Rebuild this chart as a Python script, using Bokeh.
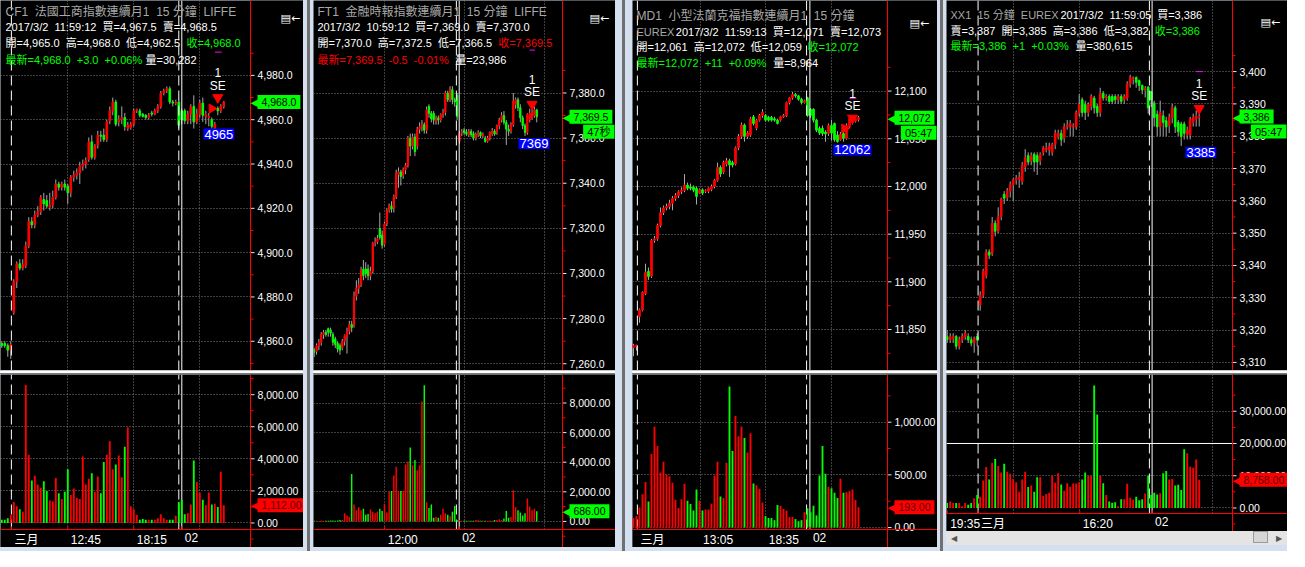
from bokeh.plotting import figure
from bokeh.models import Range1d, FixedTicker, Span, Label, Spacer, Div, BoxAnnotation
from bokeh.layouts import row, column
from bokeh.embed import file_html
from bokeh.resources import INLINE
from bokeh.core.properties import value

# ======================= DATA =======================
# --- CF1 法國工商指數 (15 min bars) ---
cf1_open = [4859, 4859, 4858, 4856, 4873, 4887, 4895, 4893, 4894, 4903,
            4914, 4912.5, 4917, 4918.5, 4924, 4923.5, 4920.5, 4921.5, 4925, 4931,
            4929.5, 4931, 4930, 4927, 4934, 4935, 4936, 4939, 4940, 4942,
            4950, 4943, 4948.5, 4953, 4953, 4951, 4959.5, 4964, 4968, 4959,
            4960, 4961, 4956, 4956.5, 4958, 4964, 4964, 4962.5, 4962, 4961,
            4963, 4962.5, 4964, 4966, 4972, 4973, 4974, 4968, 4967.5, 4968,
            4964, 4964, 4959.5, 4962.5, 4966, 4959, 4962.5, 4967.5, 4961.5, 4961,
            4960, 4956, 4965, 4964, 4966]
cf1_close = [4858, 4858, 4856, 4858.5, 4887, 4895, 4893, 4894.5, 4903, 4914,
             4912.5, 4917, 4918.5, 4925, 4922, 4921, 4921.5, 4925, 4931, 4929.5,
             4931, 4929.5, 4927, 4934, 4935, 4936, 4939, 4940, 4941.5, 4950,
             4943, 4948.5, 4953, 4952.5, 4951, 4959, 4964, 4968, 4958, 4960,
             4961, 4957, 4957.5, 4958, 4964, 4964.5, 4962, 4961.5, 4961, 4962,
             4962.5, 4964, 4966, 4972, 4973, 4974, 4968, 4967.5, 4968, 4957.5,
             4960, 4959.5, 4962.5, 4966, 4959, 4962.5, 4967.5, 4962, 4962.5, 4961.5,
             4957, 4958, 4964, 4966, 4968]
cf1_high = [4860, 4860, 4859, 4860, 4888, 4896, 4897, 4897, 4905, 4916,
            4916, 4919, 4921, 4926, 4927, 4926, 4927, 4928, 4933, 4932,
            4932, 4933, 4931, 4935, 4937, 4938, 4941, 4942, 4943, 4952,
            4953, 4949, 4955, 4955, 4956, 4960, 4966, 4970, 4969, 4962,
            4966, 4963, 4959, 4959, 4965, 4965, 4965, 4963, 4962.5, 4963,
            4964, 4965, 4967, 4973, 4974, 4975, 4975, 4969, 4969, 4969,
            4965, 4965, 4964, 4967, 4971, 4965, 4969, 4970, 4964, 4963,
            4961, 4959, 4966, 4967, 4968.5]
cf1_low = [4857, 4857, 4853, 4852, 4872, 4884, 4892, 4892, 4893, 4902,
           4911, 4911, 4916, 4917, 4919, 4920, 4919, 4920, 4924, 4928,
           4928, 4928, 4922, 4925, 4932, 4933, 4931, 4937, 4938, 4941,
           4942, 4942, 4947, 4950, 4950, 4950, 4958, 4962, 4957, 4957,
           4958, 4955, 4955, 4955.5, 4957, 4963, 4961, 4961, 4960, 4960,
           4961.5, 4962, 4963, 4965, 4971, 4972, 4967, 4966, 4966.5, 4956,
           4958, 4958, 4958, 4958, 4956, 4958, 4961, 4959, 4958, 4957,
           4956, 4955, 4962, 4963, 4965]
cf1_volume = [200, 200, 300, 500, 1300, 1050, 850, 700, 8600, 4250,
              2650, 2950, 2400, 2200, 2600, 2000, 1400, 1350, 2800, 1850,
              1500, 1950, 3350, 1750, 2150, 1550, 1500, 4150, 2400, 2750,
              3100, 1950, 2900, 1850, 3800, 4250, 5100, 3350, 3650, 4200,
              2850, 4750, 5950, 1050, 850, 500, 200, 250, 200, 200,
              200, 200, 300, 550, 300, 200, 200, 200, 450, 1300,
              1450, 550, 600, 1150, 3900, 2550, 1900, 1450, 1100, 1900,
              1150, 1200, 1000, 3200, 1112]
cf1_header = ["CF1  法國工商指數連續月1  15 分鐘  LIFFE",
              "2017/3/2  11:59:12  買=4,967.5  賣=4,968.5",
              "開=4,965.0  高=4,968.0  低=4,962.5", "收=4,968.0",
              "最新=4,968.0  +3.0  +0.06%", "量=30,282"]
cf1_xlabels = ["三月", "12:45", "18:15", "02"]
cf1_price_ticks = [4860, 4880, 4900, 4920, 4940, 4960, 4980]
cf1_volume_ticks = [0, 2000, 4000, 6000, 8000]
cf1_signal = (72, 4970, "1", "SE")
cf1_entry = (70, 4965)
cf1_box = (67.2, 4956, "4965")
cf1_stop = 4990.5

# --- FT1 金融時報指數 ---
ft1_open = [7266, 7265.5, 7268, 7269.5, 7273, 7274, 7275.5, 7275, 7273, 7271,
            7269, 7268, 7267, 7270, 7272, 7274.5, 7277.5, 7277, 7290, 7293.5,
            7295, 7302, 7302, 7302, 7299, 7301, 7313.5, 7314, 7320, 7317,
            7313, 7322, 7328, 7330, 7329, 7334, 7344, 7345, 7343.5, 7346,
            7348, 7360, 7356.5, 7360.5, 7356.5, 7364, 7365, 7366, 7363.5, 7374,
            7371, 7371, 7367.5, 7369, 7368, 7370.5, 7371.5, 7380, 7377, 7381.5,
            7377, 7379, 7358.5, 7362, 7363.5, 7362.8, 7361.5, 7363, 7362, 7360,
            7361.5, 7362.5, 7361, 7360, 7358.6, 7360, 7361.8, 7363.2, 7362.5, 7365.5,
            7368, 7370, 7367, 7364, 7363, 7366, 7375, 7377, 7373.5, 7369,
            7365.5, 7362.5, 7368, 7369, 7370, 7372.5]
ft1_close = [7265, 7268, 7269.5, 7273, 7273.8, 7273, 7274, 7273.5, 7269.5, 7268.5,
             7266.5, 7266, 7270, 7272.5, 7274.5, 7277.5, 7276, 7290, 7293.5, 7295,
             7301.5, 7299, 7300, 7299, 7301, 7313.5, 7314, 7315.5, 7316, 7312.5,
             7322, 7328, 7330, 7328.5, 7334, 7344.5, 7345, 7343, 7346, 7348,
             7360, 7356.5, 7360.5, 7354, 7364, 7365, 7366, 7363.5, 7372.5, 7371,
             7368.5, 7368, 7368.5, 7368, 7370.5, 7371.5, 7380, 7377, 7381.5, 7377,
             7376, 7369.5, 7362, 7362.8, 7362.5, 7361.7, 7363, 7361.5, 7360, 7361.5,
             7362.5, 7361, 7361.8, 7358.5, 7360, 7362.6, 7363.2, 7361.8, 7365.5, 7368,
             7370, 7367, 7364, 7363, 7366, 7376.5, 7377, 7373.5, 7369, 7365.5,
             7362.5, 7370.5, 7371, 7371.5, 7372.5, 7369.5]
ft1_high = [7267, 7269, 7271, 7274, 7275, 7275, 7276, 7276, 7274, 7272,
            7270, 7269, 7271, 7273, 7276, 7279, 7279, 7292, 7297, 7298,
            7303, 7306, 7305, 7304, 7303, 7314, 7316, 7317, 7327, 7319,
            7323, 7329, 7331, 7332, 7335, 7346, 7347, 7346, 7347, 7349,
            7361, 7362, 7362, 7362, 7365, 7367, 7368, 7367, 7374, 7375,
            7372, 7372, 7370, 7370, 7371, 7373, 7381, 7381, 7383, 7383,
            7378, 7380, 7363, 7364, 7364.5, 7364, 7364, 7364, 7363, 7362.5,
            7363.5, 7363, 7362.5, 7361, 7361, 7363, 7364.5, 7364, 7366, 7369,
            7371.5, 7372, 7368, 7366, 7367, 7380, 7378, 7378, 7375, 7370,
            7366.5, 7371, 7373, 7373, 7374, 7373]
ft1_low = [7263, 7264, 7266, 7268, 7271, 7272, 7272, 7272, 7268, 7267,
           7265, 7264, 7266, 7268, 7264.5, 7273, 7274, 7276, 7288, 7291,
           7294, 7297, 7298, 7297, 7297, 7300, 7312, 7313, 7315, 7311,
           7312, 7321, 7327, 7327, 7327, 7333, 7338, 7339, 7342, 7344,
           7347, 7352, 7355, 7352, 7355, 7362, 7363, 7362, 7362, 7369,
           7367, 7366, 7366, 7366, 7367, 7369, 7370, 7376, 7376, 7375,
           7374, 7368, 7357.5, 7361, 7361.5, 7361, 7360.5, 7360.5, 7359, 7359,
           7360.5, 7360, 7360, 7358, 7358, 7359, 7361, 7361, 7361.5, 7364,
           7367, 7366, 7357, 7361, 7362, 7365, 7373, 7372, 7367, 7364,
           7361, 7361.5, 7367, 7368, 7369, 7367]
ft1_volume = [40, 50, 30, 60, 50, 40, 50, 60, 70, 50,
              60, 100, 100, 550, 400, 300, 3200, 1150, 750, 950,
              750, 850, 450, 500, 800, 650, 550, 650, 850, 700,
              1200, 600, 2000, 2050, 3100, 3700, 2050, 2050, 2050, 3850,
              4050, 5000, 3800, 4150, 3450, 3800, 8100, 9200, 1300, 900,
              1150, 250, 300, 250, 450, 850, 550, 450, 350, 650,
              1050, 100, 100, 50, 40, 50, 60, 50, 40, 100,
              120, 50, 60, 50, 40, 60, 50, 100, 100, 150,
              100, 200, 700, 250, 300, 2100, 950, 750, 600, 400,
              550, 1550, 1000, 750, 850, 686]
ft1_header = ["FT1  金融時報指數連續月1  15 分鐘  LIFFE",
              "2017/3/2  10:59:12  買=7,369.0  賣=7,370.0",
              "開=7,370.0  高=7,372.5  低=7,366.5", "收=7,369.5",
              "最新=7,369.5  -0.5  -0.01%", "量=23,986"]
ft1_xlabels = ["12:00", "02"]
ft1_price_ticks = [7260, 7280, 7300, 7320, 7340, 7360, 7380]
ft1_volume_ticks = [0, 2000, 4000, 6000, 8000]
ft1_signal = (93, 7375, "1", "SE")
ft1_box = (87.2, 7360, "7369")
ft1_stop = 7399
ft1_timer = "47秒"

# --- MD1 小型法蘭克福指數 ---
md1_open = [11831, 11832, 11863.5, 11870.5, 11887.5, 11911, 11906, 11943.5, 11945, 11959,
            11972.5, 11977.5, 11979, 11982.5, 11987.5, 11990.5, 11994.5, 11996, 12001.5, 11999.5,
            11999.5, 11998, 11993, 11996.5, 11995, 11995, 11997, 12000, 12006.5, 12020,
            12015, 12023.5, 12027, 12025, 12023.5, 12040.5, 12052.5, 12064.5, 12052.5, 12054,
            12073, 12061, 12069.5, 12074.5, 12074.5, 12072.5, 12072.5, 12071, 12069.5, 12069.5,
            12073, 12074.5, 12088, 12093, 12096.5, 12095, 12091.5, 12088, 12093, 12081,
            12081, 12069.5, 12061, 12061, 12057, 12055.5, 12064, 12066, 12054, 12049,
            12055.5, 12050.5, 12062.5, 12067, 12068.5, 12070]
md1_close = [11833, 11833.5, 11870.5, 11889, 11910, 11905.5, 11943.5, 11945, 11959, 11972.5,
             11977.5, 11979, 11982.5, 11987.5, 11990.5, 11994.5, 11996, 12001.5, 11998, 11998,
             11996, 11989.5, 11996.5, 11993, 11995.7, 11998, 12000, 12006.5, 12020, 12013,
             12025, 12027, 12022.5, 12022.5, 12040.5, 12052.5, 12064.5, 12052.5, 12056, 12071,
             12066, 12069.5, 12074.5, 12078, 12069.5, 12069.5, 12069.5, 12069.5, 12066, 12073,
             12074.5, 12088, 12093, 12096.5, 12095, 12091.5, 12088, 12090, 12074.5, 12074.5,
             12069.5, 12059, 12056, 12055.5, 12055, 12064, 12056, 12049, 12047, 12055,
             12050.5, 12064, 12071, 12070, 12071, 12072]
md1_high = [11835, 11834, 11872, 11890, 11919, 11915, 11945, 11948, 11961, 11978,
            11980, 11982, 11986, 11990, 11993, 11996, 11999, 12013, 12004, 12003,
            12001, 12000, 11998, 11998, 11997, 11999, 12002, 12008, 12025, 12022,
            12027, 12030, 12029, 12027, 12042, 12055, 12067, 12066, 12058, 12073,
            12075, 12071, 12076, 12081, 12076, 12074, 12074, 12073, 12071, 12074,
            12076, 12089, 12094, 12099, 12098, 12096, 12093, 12091, 12094, 12082,
            12082, 12071, 12063, 12064, 12059, 12066, 12070, 12067, 12058, 12057,
            12058, 12066, 12072, 12071, 12073, 12074]
md1_low = [11822, 11828, 11857, 11869, 11886, 11902, 11904, 11941, 11943, 11957,
           11970, 11975, 11976, 11975, 11985, 11988, 11992, 11994, 11996, 11996,
           11994, 11981, 11992, 11991, 11993, 11993, 11995, 11998, 12005, 12010,
           12013, 12021, 12010, 12020, 12022, 12038, 12050, 12047, 12050, 12052,
           12064, 12059, 12068, 12072, 12068, 12068, 12068, 12068, 12065, 12068,
           12072, 12073, 12086, 12091, 12093, 12090, 12086, 12087, 12073, 12072,
           12067, 12057, 12054, 12053, 12047, 12053, 12048, 12047, 12046, 12048,
           12047, 12049, 12061, 12065, 12067, 12068]
md1_volume = [90, 110, 190, 315, 433, 248, 697, 957, 774, 523,
              625, 501, 486, 424, 263, 186, 269, 415, 254, 223,
              161, 362, 254, 161, 170, 170, 226, 495, 625, 294,
              279, 616, 1340, 727, 1059, 867, 960, 851, 712, 895,
              418, 402, 368, 238, 108, 90, 90, 70, 214, 207,
              176, 161, 99, 100, 80, 60, 70, 145, 183, 145,
              207, 115, 495, 774, 511, 387, 372, 331, 279, 464,
              331, 337, 347, 360, 260, 193]
md1_header = ["MD1  小型法蘭克福指數連續月1  15 分鐘", "EUREX",
              "2017/3/2  11:59:13  買=12,071  賣=12,073",
              "開=12,061  高=12,072  低=12,059", "收=12,072",
              "最新=12,072  +11  +0.09%", "量=8,964"]
md1_xlabels = ["三月", "13:05", "18:35", "02"]
md1_price_ticks = [11850, 11900, 11950, 12000, 12050, 12100]
md1_volume_ticks = [0, 500, 1000]
md1_signal = (73, 12071.7, "1", "SE")
md1_entry = (70.3, 12060.8)
md1_box = (66.6, 12044, "12062")
md1_stop = 12092.5
md1_timer = "05:47"

# --- XX1 ---
xx1_open = [3318, 3317, 3317.4, 3318, 3315, 3317, 3318, 3318, 3317, 3316,
            3318, 3327.8, 3330.8, 3336.8, 3344.2, 3343.7, 3353.1, 3350.6, 3355.1, 3362,
            3361, 3363, 3365, 3366.5, 3366.7, 3366, 3370.5, 3374, 3372.4, 3374.4,
            3374, 3372.4, 3375, 3375.8, 3375.8, 3375, 3377.4, 3379.9, 3380.9, 3379.4,
            3382.9, 3382.9, 3382.9, 3382.9, 3387.3, 3391.3, 3389.8, 3387.3, 3389.3, 3391.8,
            3389.3, 3387.3, 3393.3, 3391.8, 3392.3, 3392.3, 3392.3, 3391.3, 3392.3, 3391.3,
            3391.8, 3396.2, 3397.7, 3398.2, 3397.2, 3395.7, 3394.3, 3395.2, 3393.8, 3390.3,
            3386.8, 3382.9, 3386.3, 3384.8, 3383.4, 3385.8, 3388.8, 3384.3, 3383.8, 3383.8,
            3380.4, 3380.4, 3384.3, 3385.3, 3385.9]
xx1_close = [3317, 3318, 3318.1, 3315, 3317, 3318, 3319, 3317, 3316, 3317.5,
             3317, 3330.8, 3338.3, 3344.2, 3343.2, 3353.1, 3350.6, 3355.1, 3360.6, 3360.8,
             3363, 3365, 3366.5, 3367, 3367.3, 3371, 3373.4, 3372, 3374, 3372,
             3372, 3374.4, 3376.4, 3376.4, 3376.8, 3377.4, 3380.9, 3380.9, 3378.9, 3382.9,
             3383.4, 3383.9, 3383.2, 3387.3, 3389.8, 3387.3, 3387.3, 3389.8, 3392.3, 3388.8,
             3387.3, 3393.3, 3391.8, 3392.3, 3390.8, 3390.8, 3391.3, 3392.3, 3390.8, 3392.3,
             3396.2, 3398.2, 3398, 3396.7, 3395.7, 3394.3, 3394.7, 3388.8, 3391.3, 3385.8,
             3382.9, 3387.3, 3384.3, 3382.9, 3385.8, 3388.8, 3382.9, 3381.4, 3379.9, 3380.9,
             3381.9, 3385.3, 3385.8, 3386.3, 3386.1]
xx1_high = [3320, 3319, 3319, 3318.5, 3318, 3319, 3320, 3319, 3318, 3318,
            3319, 3332, 3339, 3345, 3345, 3355, 3354, 3358, 3361, 3363,
            3364, 3366, 3367, 3368, 3369, 3372, 3376, 3375, 3375, 3375,
            3375, 3375, 3377, 3378, 3378, 3378, 3382, 3382, 3382, 3384,
            3385, 3385, 3384, 3388, 3393, 3392, 3391, 3390.5, 3393, 3392.5,
            3390, 3395, 3394, 3393, 3393, 3393, 3393, 3393, 3393, 3393,
            3397, 3399, 3398.5, 3398.5, 3397.5, 3396, 3395.5, 3395.5, 3394, 3391,
            3388, 3391, 3388, 3386, 3387, 3390, 3389.5, 3385, 3384.5, 3384.5,
            3383, 3386, 3387, 3388, 3387]
xx1_low = [3316, 3316, 3316, 3314, 3314, 3316, 3317, 3316, 3315, 3313,
           3315, 3326, 3330, 3336, 3342, 3343, 3349, 3350, 3354, 3359,
           3360, 3361, 3360, 3365, 3364, 3365, 3369, 3371, 3371, 3369,
           3368, 3371, 3374, 3375, 3374, 3374, 3376, 3379, 3377, 3378,
           3382, 3380, 3380, 3382, 3386, 3386, 3385, 3386, 3388, 3387,
           3386, 3386, 3391, 3391, 3390, 3390, 3390, 3390, 3390, 3390,
           3391, 3395, 3396, 3395, 3394, 3393, 3392, 3387, 3389, 3383,
           3380, 3380, 3380, 3380, 3381, 3384, 3381, 3380, 3377, 3379,
           3379, 3379, 3383, 3383, 3383]
xx1_volume = [1500, 2000, 1500, 1500, 1500, 500, 1500, 1000, 1500, 3000,
              4000, 3500, 8500, 12700, 8800, 14000, 15200, 13000, 11000, 13700,
              11200, 10600, 9000, 8000, 5000, 8800, 11200, 6500, 7000, 5000,
              9500, 9500, 3800, 4300, 4700, 10000, 7800, 10800, 7300, 5300,
              7700, 6600, 7600, 7600, 8000, 8800, 11000, 9900, 10000, 38000,
              29000, 10000, 7700, 4000, 2000, 1600, 1800, 500, 2700, 2700,
              7500, 3200, 2600, 3500, 2400, 2700, 4500, 10000, 4000, 4700,
              4200, 4600, 10800, 11500, 8800, 9000, 7000, 7200, 5600, 18200,
              17000, 12800, 12500, 15000, 8758]
xx1_header = ["XX1  15 分鐘  EUREX", "2017/3/2  11:59:05", "買=3,386",
              "賣=3,387  開=3,385  高=3,386  低=3,382", "收=3,386",
              "最新=3,386  +1  +0.03%", "量=380,615"]
xx1_xlabels = ["19:35", "三月", "16:20", "02"]
xx1_price_ticks = [3310, 3320, 3330, 3340, 3350, 3360, 3370, 3380, 3390, 3400]
xx1_volume_ticks = [0, 10000, 20000, 30000]
xx1_signal = (84, 3388.6, "1", "SE")
xx1_box = (79.4, 3376.7, "3385")
xx1_stop = 3400
xx1_timer = "05:47"
xx1_cross_volume = 20000

# ======================= STYLE / LAYOUT =======================
RED = "#ff0000"
GREEN = "#00ff00"
WHITE = "#ffffff"
GRAYT = "#a8a8a8"
WICK = "#a9a9a9"
GRID = "#7c7c7c"
TICKC = "#dfe6ff"
PANEL_BG = "#d4e0ef"
GRAYLINE = "#707070"
FONT = "Liberation Sans, Noto Sans CJK TC"
LATIN = "Liberation Sans"
PRICE_H = 370
VOL_H = 155
AXIS_B = 18
SEP_H = 4
TOTAL_H = 551
T12, T11 = "12px", "11px"


def minor_of(t):
    step = t[1] - t[0]
    return [t[0] - step / 2] + [(a + b) / 2 for a, b in zip(t[:-1], t[1:])] + [t[-1] + step / 2]


def nb(s):
    return s.replace(" ", "\u00a0")


def label(p, x, y, text, color, dx=0, dy=0, size="12px", font=FONT,
          align="left", baseline="middle", **kw):
    p.add_layout(Label(x=x, y=y, x_offset=dx, y_offset=dy, text=nb(text), text_color=color,
                       text_font=font, text_font_size=size, text_align=align,
                       text_baseline=baseline, **kw))


def tag(p, x, y, text, bg, fg, dy=0):
    label(p, x, y, "◀", bg, dx=0, dy=dy, size="14px", font="DejaVu Sans")
    label(p, x, y, " " + text + " ", fg, dx=7, dy=dy, size="10.5px", font=LATIN,
          background_fill_color=bg, padding=1)


def base_fig(w, h, xr, yr):
    p = figure(frame_width=w, frame_height=h, x_range=xr, y_range=yr, title=None,
               output_backend="svg", toolbar_location=None,
               x_axis_location=None, y_axis_location=None,
               background_fill_color="black", border_fill_color="black",
               outline_line_color=None, min_border=0, min_border_left=0,
               min_border_right=0, min_border_top=0, min_border_bottom=0)
    return p


def grids(p, yticks, xgrid):
    p.ygrid.ticker = FixedTicker(ticks=yticks)
    p.ygrid.grid_line_color = GRID
    p.ygrid.grid_line_dash = "1 2"
    p.xgrid.ticker = FixedTicker(ticks=xgrid)
    p.xgrid.grid_line_color = GRID
    p.xgrid.grid_line_dash = "1 2"


def right_axis(p, xe, ppb, ticks, fmt):
    # black band that hides the grid inside the axis strip
    p.add_layout(BoxAnnotation(left=xe, fill_color="black", fill_alpha=1.0,
                               line_alpha=0, level="underlay"))
    n = len(ticks)
    mt = minor_of(ticks)
    p.segment(x0=[xe] * n, y0=ticks, x1=[xe + 4 / ppb] * n, y1=ticks, line_color=TICKC)
    p.segment(x0=[xe] * len(mt), y0=mt, x1=[xe + 3 / ppb] * len(mt), y1=mt, line_color=RED)
    p.text(x=[xe] * n, y=ticks, text=[fmt.format(t) for t in ticks], x_offset=7,
           text_baseline="middle", text_align="left", text_color=WHITE,
           text_font=value(LATIN), text_font_size="10.5px")
    p.add_layout(Span(location=xe, dimension="height", line_color=RED, line_width=1))


def build(cfg):
    o, h, l, c, v = cfg["open"], cfg["high"], cfg["low"], cfg["close"], cfg["volume"]
    n = len(o)
    assert len(h) == n and len(l) == n and len(c) == n and len(v) == n, cfg["name"]
    idx = list(range(n))
    cols = [RED if cc >= oo else GREEN for oo, cc in zip(o, c)]
    tops = [max(a, b) for a, b in zip(o, c)]
    bots = [min(a, b) for a, b in zip(o, c)]
    fw, R = cfg["fw"], cfg["R"]
    xs, xe = cfg["xr"]
    ppb = fw / (xe - xs)
    xr = Range1d(xs, xe + R / ppb)
    ys, ye = cfg["pyr"]
    vs, ve = cfg["vyr"]
    vh = cfg.get("vh", VOL_H)
    vstart = vs - AXIS_B * (ve - vs) / vh

    # ---------------- price ----------------
    p = base_fig(fw + R, PRICE_H, xr, Range1d(ys, ye))
    grids(p, cfg["pticks"], cfg["xgrid"])
    right_axis(p, xe, ppb, cfg["pticks"], cfg["pfmt"])
    for b in cfg["breaks"]:
        p.add_layout(Span(location=b, dimension="height", line_color=WHITE,
                          line_width=1, line_dash="10 5"))
    p.add_layout(Span(location=cfg["day"], dimension="height", line_color=WHITE, line_width=1))
    p.segment(x0=idx, y0=l, x1=idx, y1=h, line_color=WICK, line_width=1)
    p.vbar(x=idx, width=0.55, top=tops, bottom=bots, fill_color=cols,
           line_color=cols, line_width=1)

    hdr = cfg["header"]
    for dx, dy, k, col, sz in cfg["header_pos"]:
        label(p, xs, ye, hdr[k], col, dx=dx, dy=-dy, size=sz)
    label(p, xe, ye, "▤←", WHITE, dx=cfg["icon"][0], dy=-cfg["icon"][1],
          size="11px", font="DejaVu Sans")

    sb, sp, s1, s2 = cfg["signal"]
    p.segment(x0=[sb - 1.0], y0=[cfg["stop"]], x1=[sb + 1.3], y1=[cfg["stop"]],
              line_color="#ff00ff", line_width=1)
    p.scatter(x=[sb], y=[sp], marker="inverted_triangle", size=10, fill_color=RED,
              line_color=RED)
    label(p, sb, sp, s2, WHITE, dy=12, size="12px", font=LATIN, align="center")
    label(p, sb, sp, s1, WHITE, dy=25, size="12px", font=LATIN, align="center")
    if cfg.get("entry"):
        eb, ep = cfg["entry"]
        p.scatter(x=[eb], y=[ep], marker="triangle", angle=-1.5708, size=9,
                  fill_color=RED, line_color=RED)
    bb, bp, bt = cfg["box"]
    label(p, bb, bp, bt, WHITE, size="13px", font=LATIN, baseline="top",
          background_fill_color="#0000ff", padding=1)

    tag(p, xe, c[-1], cfg["pfmt_tag"].format(c[-1]), GREEN, "#000000")
    if cfg.get("timer"):
        label(p, xe, c[-1], " " + cfg["timer"] + " ", "#000000", dx=R - 1, dy=-15,
              size="11px", font=FONT, align="right", background_fill_color=GREEN,
              padding=1)

    # ---------------- volume ----------------
    q = base_fig(fw + R, vh + AXIS_B, xr, Range1d(vstart, ve))
    grids(q, cfg["vticks"], cfg["xgrid"])
    # black band under the time axis line
    q.add_layout(BoxAnnotation(top=vs, fill_color="black", fill_alpha=1.0,
                               line_alpha=0, level="underlay"))
    right_axis(q, xe, ppb, cfg["vticks"], "{:,.2f}")
    nbk = len(cfg["breaks"])
    q.segment(x0=cfg["breaks"], y0=[vs] * nbk, x1=cfg["breaks"], y1=[ve] * nbk,
              line_color=WHITE, line_width=1, line_dash="10 5")
    q.segment(x0=[cfg["day"]], y0=[vs], x1=[cfg["day"]], y1=[ve], line_color=WHITE,
              line_width=1)
    if cfg.get("cross"):
        q.segment(x0=[xs], y0=[cfg["cross"]], x1=[xe], y1=[cfg["cross"]],
                  line_color=WHITE, line_width=1)
    q.vbar(x=idx, width=0.62, top=v, bottom=0, fill_color=cols, line_color=None)
    q.add_layout(Span(location=vs, dimension="width", line_color=RED, line_width=1))
    # time axis ticks + labels
    tl = len(cfg["xlab_pos"])
    tick_h = 3 * (ve - vstart) / (vh + AXIS_B)
    q.segment(x0=cfg["xlab_pos"], y0=[vs] * tl, x1=cfg["xlab_pos"], y1=[vs + tick_h] * tl,
              line_color=RED, line_width=1)
    for pos, t in zip(cfg["xlab_pos"], cfg["xlabels"]):
        label(q, pos, vs, t, WHITE, dx=3, dy=-3, size="12px", font=FONT, baseline="top")
    vcol = cols[-1]
    tag(q, xe, v[-1], "{:,.2f}".format(v[-1]), vcol,
        "#000000" if vcol == GREEN else "#5a0000")

    sep = Spacer(width=fw + R, height=SEP_H, margin=0,
                 styles={"background": "linear-gradient(#c8c8c8 0px, #c8c8c8 1px, "
                                       "#ffffff 1px, #ffffff 3px, #7a7a7a 3px, #7a7a7a 4px)"})
    kids = [p, sep, q]
    if cfg.get("scroll"):
        w = fw + R
        kids.append(Div(width=w, height=14, margin=0,
                        styles={"background-color": "#e4e4e4"},
                        text=('<div style="position:relative;width:%dpx;height:14px;'
                              'font-family:DejaVu Sans;font-size:8px;color:#555;">'
                              '<span style="position:absolute;left:5px;top:2px;">◀</span>'
                              '<span style="position:absolute;left:%dpx;top:0px;width:15px;'
                              'height:12px;background:#d6d6d6;border:1px solid #9a9a9a;"></span>'
                              '<span style="position:absolute;left:%dpx;top:2px;">▶</span></div>')
                             % (w, w - 34, w - 11)))
    return column(*kids, spacing=0)


W, G, Rd = WHITE, GREEN, RED
panels = [
    dict(name="CF1", open=cf1_open, high=cf1_high, low=cf1_low, close=cf1_close,
         volume=cf1_volume, header=cf1_header, xlabels=cf1_xlabels,
         fw=250, R=53, xr=(-0.43, 82.9), pyr=(4846.8, 5013.8), vyr=(-407, 9258),
         pticks=cf1_price_ticks, pfmt="{:,.1f}", pfmt_tag="{:,.1f}",
         vticks=cf1_volume_ticks, xgrid=[22, 44, 66],
         breaks=[3.2, 59.0], day=60.0, xlab_pos=[3.2, 22, 44, 60.0],
         header_pos=[(5, 11, 0, GRAYT, T12), (5, 26, 1, W, T11), (5, 42.7, 2, W, T11),
                     (186, 42.7, 3, G, T11), (5, 59.3, 4, G, T11), (145, 59.3, 5, W, T11)],
         icon=(30, 18.3), signal=cf1_signal, entry=cf1_entry, box=cf1_box, stop=cf1_stop),
    dict(name="FT1", open=ft1_open, high=ft1_high, low=ft1_low, close=ft1_close,
         volume=ft1_volume, header=ft1_header, xlabels=ft1_xlabels,
         fw=249, R=53, xr=(-0.3, 106.0), pyr=(7257.0, 7421), vyr=(-546, 9926),
         pticks=ft1_price_ticks, pfmt="{:,.1f}", pfmt_tag="{:,.1f}",
         vticks=ft1_volume_ticks, xgrid=[30.1, 64.2, 98.4],
         breaks=[60.7], day=61.9, xlab_pos=[30.1, 61.9],
         header_pos=[(4, 11.7, 0, GRAYT, T12), (4, 26.7, 1, W, T11), (4, 42.7, 2, W, T11),
                     (184.7, 42.7, 3, Rd, T11), (4, 59.3, 4, Rd, T11), (141.7, 59.3, 5, W, T11)],
         icon=(27, 18.3), signal=ft1_signal, box=ft1_box, stop=ft1_stop, timer=ft1_timer),
    dict(name="MD1", open=md1_open, high=md1_high, low=md1_low, close=md1_close,
         volume=md1_volume, header=md1_header, xlabels=md1_xlabels,
         fw=255, R=50, xr=(-0.33, 84.67), pyr=(11807, 12195), vyr=(-19, 1453),
         pticks=md1_price_ticks, pfmt="{:,.0f}", pfmt_tag="{:,.0f}",
         vticks=md1_volume_ticks, xgrid=[22.2, 44.1, 66.1],
         breaks=[1.3, 57.7], day=58.8, xlab_pos=[1.3, 22.2, 44.1, 58.8],
         header_pos=[(4, 15, 0, GRAYT, T12), (4, 31, 1, GRAYT, T11), (43.3, 31, 2, W, T11),
                     (4, 46.7, 3, W, T11), (175, 46.7, 4, G, T11), (4, 62.3, 5, G, T11),
                     (140.7, 62.3, 6, W, T11)],
         icon=(22, 22.7), signal=md1_signal, entry=md1_entry, box=md1_box, stop=md1_stop,
         timer=md1_timer),
    dict(name="XX1", open=xx1_open, high=xx1_high, low=xx1_low, close=xx1_close,
         volume=xx1_volume, header=xx1_header, xlabels=xx1_xlabels,
         fw=286, R=55, xr=(-0.23, 95.1), pyr=(3307.5, 3422), vyr=(-1720, 41400), vh=139,
         pticks=xx1_price_ticks, pfmt="{:,.0f}", pfmt_tag="{:,.0f}",
         vticks=xx1_volume_ticks, xgrid=[22.2, 44.2, 88.3],
         breaks=[10.3, 67.4], day=68.3, xlab_pos=[0, 10.3, 44.2, 68.3],
         header_pos=[(4, 14, 0, GRAYT, T11), (114, 14, 1, W, T11), (210.7, 14, 2, W, T11),
                     (4, 30, 3, W, T11), (208.3, 30, 4, G, T11), (4, 45.7, 5, G, T11),
                     (129, 45.7, 6, W, T11)],
         icon=(28, 21.7), signal=xx1_signal, box=xx1_box, stop=xx1_stop, timer=xx1_timer,
         cross=xx1_cross_volume, scroll=True),
]


def gap(parts):
    return [Spacer(width=w, height=TOTAL_H, margin=0, styles={"background-color": col})
            for w, col in parts]


cols_ = [build(cfg) for cfg in panels]
layout = row(cols_[0],
             *gap([(4, PANEL_BG), (3, GRAYLINE), (3, PANEL_BG)]),
             cols_[1],
             *gap([(7, PANEL_BG), (3, GRAYLINE), (7, PANEL_BG)]),
             cols_[2],
             *gap([(3, PANEL_BG), (3, GRAYLINE), (3, PANEL_BG)]),
             cols_[3],
             spacing=0, styles={"background-color": PANEL_BG})

with open("out.html", "w", encoding="utf-8") as f:
    f.write(file_html(layout, INLINE, title="Futures 15-minute charts"))
